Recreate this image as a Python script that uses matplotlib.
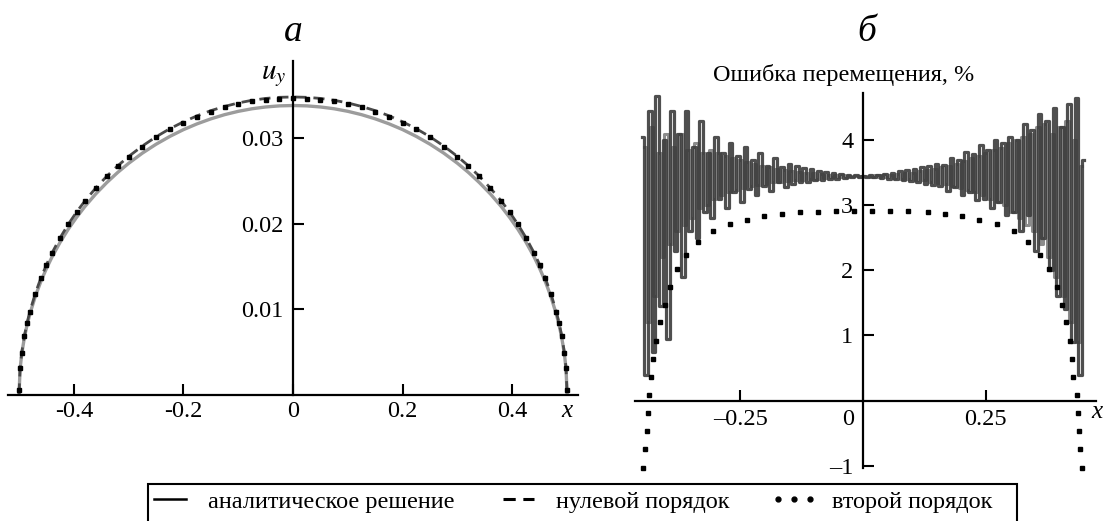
import matplotlib
matplotlib.use('Agg')
import matplotlib.pyplot as plt
from matplotlib.lines import Line2D
from matplotlib.patches import Rectangle
import numpy as np

plt.rcParams['font.family'] = ['Liberation Serif', 'DejaVu Serif']
plt.rcParams['mathtext.fontset'] = 'stix'

# --- panel a: displacement u_y along x ---
x_a = [-0.5, -0.498, -0.495, -0.49, -0.485, -0.48, -0.47, -0.46, -0.45, -0.44,
       -0.425, -0.41, -0.395, -0.38, -0.36, -0.34, -0.32, -0.3, -0.275, -0.25,
       -0.225, -0.2, -0.175, -0.15, -0.125, -0.1, -0.075, -0.05, -0.025, 0.0,
       0.025, 0.05, 0.075, 0.1, 0.125, 0.15, 0.175, 0.2, 0.225, 0.25,
       0.275, 0.3, 0.32, 0.34, 0.36, 0.38, 0.395, 0.41, 0.425, 0.44,
       0.45, 0.46, 0.47, 0.48, 0.485, 0.49, 0.495, 0.498, 0.5]

u_analytic = [0.0, 0.00302, 0.00477, 0.00673, 0.00822, 0.00946, 0.01153, 0.01325, 0.01473, 0.01606,
              0.01781, 0.01935, 0.02072, 0.02197, 0.02346, 0.02478, 0.02597, 0.02704, 0.02823, 0.02927,
              0.03018, 0.03098, 0.03166, 0.03224, 0.03273, 0.03312, 0.03342, 0.03363, 0.03376, 0.0338,
              0.03376, 0.03363, 0.03342, 0.03312, 0.03273, 0.03224, 0.03166, 0.03098, 0.03018, 0.02927,
              0.02823, 0.02704, 0.02597, 0.02478, 0.02346, 0.02197, 0.02072, 0.01935, 0.01781, 0.01606,
              0.01473, 0.01325, 0.01153, 0.00946, 0.00822, 0.00673, 0.00477, 0.00302, 0.0]

u_zero = [0.0, 0.00311, 0.00491, 0.00693, 0.00846, 0.00974, 0.01187, 0.01364, 0.01517, 0.01653,
          0.01833, 0.01992, 0.02134, 0.02262, 0.02415, 0.02552, 0.02674, 0.02784, 0.02906, 0.03014,
          0.03108, 0.03189, 0.0326, 0.0332, 0.03369, 0.0341, 0.03441, 0.03463, 0.03476, 0.0348,
          0.03476, 0.03463, 0.03441, 0.0341, 0.03369, 0.0332, 0.0326, 0.03189, 0.03108, 0.03014,
          0.02906, 0.02784, 0.02674, 0.02552, 0.02415, 0.02262, 0.02134, 0.01992, 0.01833, 0.01653,
          0.01517, 0.01364, 0.01187, 0.00974, 0.00846, 0.00693, 0.00491, 0.00311, 0.0]

u_second = [0.0005, 0.0031, 0.0049, 0.0069, 0.0084, 0.0097, 0.0118, 0.0136, 0.0151, 0.0165,
            0.0183, 0.0199, 0.0213, 0.0226, 0.0241, 0.0255, 0.0267, 0.0278, 0.029, 0.0301,
            0.031, 0.0318, 0.0325, 0.0331, 0.0336, 0.034, 0.0343, 0.0345, 0.0346, 0.0347,
            0.0346, 0.0345, 0.0343, 0.034, 0.0336, 0.0331, 0.0325, 0.0318, 0.031, 0.0301,
            0.029, 0.0278, 0.0267, 0.0255, 0.0241, 0.0226, 0.0213, 0.0199, 0.0183, 0.0165,
            0.0151, 0.0136, 0.0118, 0.0097, 0.0084, 0.0069, 0.0049, 0.0031, 0.0005]

# --- panel b: displacement error, % ---
# zero-order error, dense oscillating samples on a uniform grid -0.45 .. 0.45
err_zero = [4.05, 0.40, 4.45, 0.75, 4.68, 1.45, 4.0, 0.95, 4.45, 2.3,
            4.1, 1.9, 4.45, 2.6, 3.9, 2.5, 4.3, 2.9, 3.8, 2.8,
            4.05, 3.1, 3.8, 2.95, 3.95, 3.2, 3.75, 3.05, 3.9, 3.25,
            3.7, 3.15, 3.8, 3.3, 3.6, 3.22, 3.72, 3.35, 3.58, 3.28,
            3.63, 3.33, 3.6, 3.35, 3.57, 3.36, 3.55, 3.38, 3.53, 3.39,
            3.51, 3.40, 3.49, 3.41, 3.48, 3.42, 3.47, 3.43, 3.46, 3.44,
            3.45,
            3.44, 3.46, 3.43, 3.47, 3.42, 3.48, 3.41, 3.5, 3.40, 3.52,
            3.38, 3.54, 3.37, 3.56, 3.35, 3.58, 3.33, 3.61, 3.31, 3.64,
            3.3, 3.62, 3.22, 3.72, 3.28, 3.7, 3.15, 3.82, 3.2, 3.78,
            3.08, 3.92, 3.1, 3.85, 2.95, 4.0, 3.05, 3.95, 2.85, 4.05,
            2.9, 4.0, 2.6, 4.25, 2.85, 4.15, 2.3, 4.4, 2.5, 4.3,
            2.0, 4.5, 1.6, 4.2, 1.4, 4.55, 0.9, 4.65, 0.4, 3.7]

# lighter overlapping trace, on the grid shifted by half a step
err_zero_b = [3.9, 1.2, 4.2, 1.6, 3.8, 2.2, 4.1, 2.4, 3.9, 2.6,
              4.1, 2.7, 3.85, 2.8, 3.95, 2.95, 3.8, 3.0, 3.85, 3.1,
              3.8, 3.15, 3.75, 3.2, 3.72, 3.24, 3.7, 3.27, 3.66, 3.29,
              3.63, 3.31, 3.6, 3.33, 3.58, 3.35, 3.56, 3.36, 3.54, 3.37,
              3.52, 3.38, 3.51, 3.39, 3.5, 3.4, 3.49, 3.41, 3.48, 3.42,
              3.47, 3.43, 3.465, 3.435, 3.46, 3.44, 3.455, 3.445, 3.455, 3.445,
              3.445, 3.455, 3.44, 3.46, 3.435, 3.465, 3.43, 3.47, 3.42, 3.48,
              3.41, 3.49, 3.4, 3.5, 3.39, 3.52, 3.38, 3.54, 3.36, 3.56,
              3.34, 3.58, 3.32, 3.61, 3.3, 3.64, 3.27, 3.68, 3.24, 3.72,
              3.2, 3.76, 3.15, 3.8, 3.1, 3.85, 3.05, 3.88, 3.0, 3.95,
              2.9, 4.0, 2.8, 4.05, 2.7, 4.1, 2.6, 4.2, 2.4, 4.25,
              2.2, 4.1, 1.9, 4.2, 1.6, 4.3, 1.2, 4.0, 0.9, 3.6]

x_err2 = [-0.448, -0.444, -0.441, -0.438, -0.436, -0.433, -0.428, -0.422, -0.414, -0.404,
          -0.394, -0.380, -0.360, -0.337, -0.306, -0.271, -0.237, -0.201, -0.166, -0.129,
          -0.092, -0.055, -0.018, 0.018, 0.055, 0.092, 0.132, 0.167, 0.201, 0.237,
          0.273, 0.307, 0.337, 0.361, 0.380, 0.395, 0.405, 0.414, 0.421, 0.425,
          0.429, 0.436, 0.438, 0.441, 0.442, 0.446]
err_second = [-1.04, -0.74, -0.47, -0.19, 0.08, 0.36, 0.64, 0.91, 1.20, 1.47,
              1.74, 2.02, 2.23, 2.44, 2.61, 2.71, 2.78, 2.83, 2.87, 2.89,
              2.90, 2.91, 2.91, 2.91, 2.91, 2.91, 2.89, 2.87, 2.83, 2.78,
              2.71, 2.61, 2.44, 2.23, 2.02, 1.74, 1.47, 1.20, 0.91, 0.64,
              0.36, 0.08, -0.19, -0.47, -0.74, -1.04]

legend_labels = ['аналитическое решение', 'нулевой порядок', 'второй порядок']

TICK_FS = 17.5

fig = plt.figure(figsize=(11.03, 5.21), dpi=100)

# ---------- panel a ----------
axL = fig.add_axes([0.0073, 0.2428, 0.5168, 0.640])
axL.plot(x_a, u_analytic, color='#9c9c9c', lw=2.4, solid_capstyle='round')
axL.plot(x_a, u_zero, color='#4a4a4a', lw=2.0, dashes=(4, 2.5))
axL.plot(x_a, u_second, ls='none', marker='s', ms=3.0, color='black', clip_on=False)
axL.set_xlim(-0.52, 0.52)
axL.set_ylim(0, 0.039)
axL.spines['left'].set_position(('data', 0))
for s in ['top', 'right']:
    axL.spines[s].set_visible(False)
for s in ['left', 'bottom']:
    axL.spines[s].set_linewidth(1.6)
axL.set_xticks([-0.4, -0.2, 0, 0.2, 0.4])
axL.set_xticklabels(['-0.4', '-0.2', '0', '0.2', '0.4'])
axL.set_yticks([0.01, 0.02, 0.03])
axL.set_yticklabels(['0.01', '0.02', '0.03'])
axL.tick_params(direction='in', length=8, width=1.5, labelsize=TICK_FS)
axL.tick_params(axis='y', pad=7)
axL.tick_params(axis='x', pad=5)
axL.text(-0.035, 0.0372, '$u_y$', fontsize=21, ha='center', va='center')
axL.text(0.5, -0.0019, 'x', fontsize=18, style='italic', ha='center', va='center')

# ---------- panel b ----------
axR = fig.add_axes([0.5757, 0.1025, 0.418, 0.7185])
x_err0 = np.linspace(-0.45, 0.45, len(err_zero))
x_err0b = np.linspace(-0.44625, 0.44625, len(err_zero_b))
axR.plot(x_err0b, err_zero_b, color='#8c8c8c', lw=2.2, drawstyle='steps-mid')
axR.plot(x_err0, err_zero, color='#3c3c3c', lw=2.3, alpha=0.9, drawstyle='steps-mid')
axR.plot(x_err2, err_second, ls='none', marker='s', ms=3.2, color='black', clip_on=False)
axR.set_xlim(-0.465, 0.475)
axR.set_ylim(-1.03, 4.72)
axR.spines['left'].set_position(('data', 0))
axR.spines['bottom'].set_position(('data', 0))
for s in ['top', 'right']:
    axR.spines[s].set_visible(False)
for s in ['left', 'bottom']:
    axR.spines[s].set_linewidth(1.6)
axR.set_xticks([-0.25, 0, 0.25])
axR.set_xticklabels(['–0.25', '', '0.25'])
axR.set_yticks([-1, 1, 2, 3, 4])
axR.set_yticklabels(['–1', '1', '2', '3', '4'])
axR.tick_params(direction='in', length=8, width=1.5, labelsize=TICK_FS)
axR.tick_params(axis='y', pad=7)
axR.tick_params(axis='x', pad=6)
axR.annotate('0', xy=(-0.031, 0), xytext=(0, -6), textcoords='offset points',
             ha='center', va='top', fontsize=TICK_FS)
axR.text(0.477, -0.17, 'x', fontsize=18, style='italic', ha='center', va='center')
axR.text(-0.039, 5.0, 'Ошибка перемещения, %', fontsize=17.5, ha='center', va='center')

# panel letters
fig.text(293 / 1103, 1 - 32 / 521, 'а', fontsize=27, style='italic', ha='center', va='center')
fig.text(867 / 1103, 1 - 32 / 521, 'б', fontsize=27, style='italic', ha='center', va='center')

# legend, with a separate frame running past the bottom edge
handles = [Line2D([], [], color='black', lw=1.8),
           Line2D([], [], color='black', lw=2.2, dashes=(4, 2.5)),
           Line2D([], [], ls='none', marker='o', ms=3.5, color='black')]
leg = fig.legend(handles, legend_labels, ncol=3, loc='upper left',
                 bbox_to_anchor=(142 / 1103, 0.0, 855 / 1103, 1 - 486 / 521),
                 mode='expand', fontsize=17.5, frameon=False,
                 numpoints=3, handlelength=1.9,
                 handletextpad=0.6, borderpad=0.2, borderaxespad=0.0)
fig.patches.append(Rectangle((148 / 1103, -0.05), 869 / 1103, 0.05 + 1 - 484 / 521,
                             transform=fig.transFigure, fill=False,
                             edgecolor='black', lw=1.5))

fig.savefig('out.png', dpi=100)
